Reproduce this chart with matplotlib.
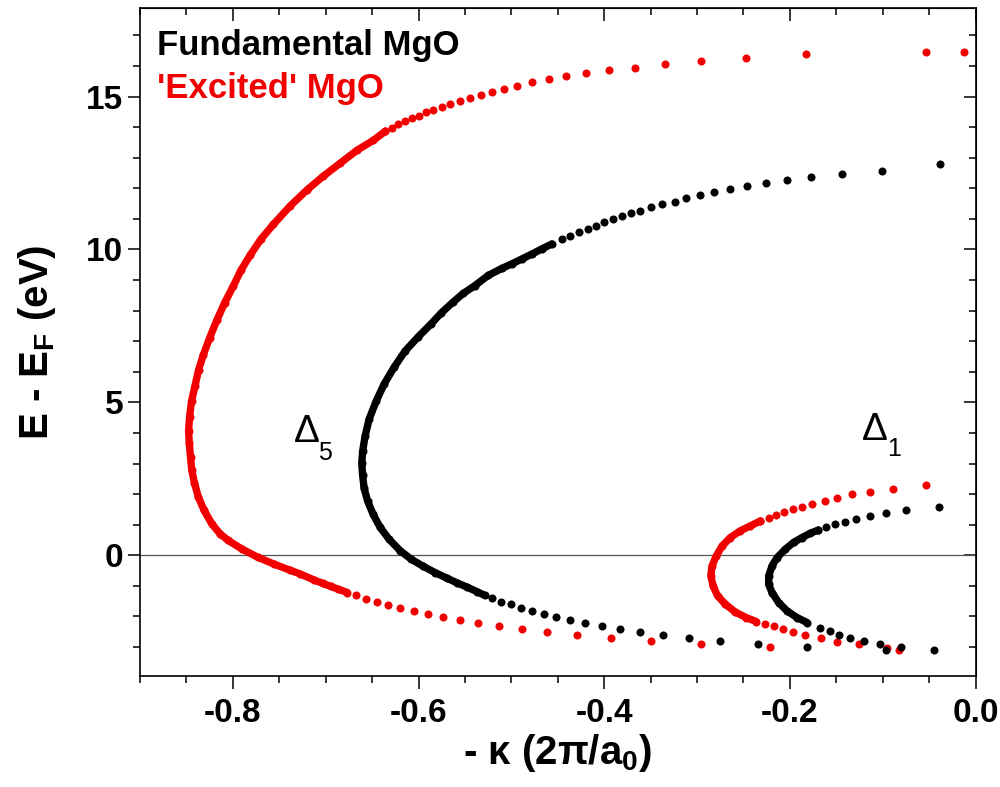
import numpy as np
import matplotlib.pyplot as plt
from matplotlib.ticker import MultipleLocator

plt.rcParams['font.family'] = ['Liberation Sans', 'DejaVu Sans']
plt.rcParams['mathtext.fontset'] = 'custom'
plt.rcParams['mathtext.bf'] = 'Liberation Sans:bold'
plt.rcParams['mathtext.rm'] = 'Liberation Sans'
plt.rcParams['mathtext.default'] = 'bf'

# ---- data: -kappa (2pi/a0) and E - E_F (eV) ----
# 'Excited' MgO, Delta5 branch
red5_top_k = [-0.0119, -0.0532, -0.1825, -0.2476, -0.2957, -0.3349, -0.3672, -0.3948, -0.4193, -0.4409,
              -0.4599, -0.4772, -0.4940, -0.5077, -0.5206, -0.5332, -0.5443, -0.5551, -0.5656, -0.5748,
              -0.5839, -0.5918, -0.6000, -0.6072, -0.6144, -0.6216, -0.6287, -0.6359]
red5_top_e = [16.45, 16.45, 16.38, 16.27, 16.16, 16.07, 15.94, 15.88, 15.77, 15.66,
              15.56, 15.47, 15.36, 15.25, 15.16, 15.06, 14.96, 14.87, 14.77, 14.67,
              14.57, 14.49, 14.38, 14.29, 14.20, 14.09, 13.98, 13.86]
red5_arc_k = [-0.6359, -0.6486, -0.6664, -0.6844, -0.7028, -0.7203, -0.7383, -0.7563, -0.7696, -0.7814,
              -0.7911, -0.7994, -0.8089, -0.8173, -0.8251, -0.8318, -0.8369, -0.8407, -0.8445, -0.8466,
              -0.8477, -0.8469, -0.8456, -0.8443, -0.8413, -0.8372, -0.8310, -0.8227, -0.8138, -0.8052,
              -0.7901, -0.7728, -0.7556, -0.7383, -0.7276, -0.7125, -0.7031, -0.6945, -0.6863, -0.6766]
red5_arc_e = [13.86, 13.57, 13.24, 12.82, 12.39, 11.94, 11.42, 10.82, 10.34, 9.81,
              9.33, 8.81, 8.25, 7.68, 7.10, 6.55, 6.06, 5.55, 5.04, 4.52,
              4.06, 3.67, 3.21, 2.79, 2.36, 1.91, 1.47, 1.03, 0.70, 0.49,
              0.20, -0.07, -0.29, -0.49, -0.61, -0.81, -0.92, -1.02, -1.11, -1.22]
red5_bot_k = [-0.6672, -0.6564, -0.6442, -0.6324, -0.6198, -0.6044, -0.5899, -0.5731, -0.5551, -0.5354,
              -0.5131, -0.4890, -0.4613, -0.4298, -0.3931, -0.3496, -0.2954, -0.2210]
red5_bot_e = [-1.31, -1.42, -1.52, -1.63, -1.73, -1.82, -1.91, -2.02, -2.12, -2.20,
              -2.31, -2.42, -2.52, -2.62, -2.71, -2.82, -2.90, -3.00]

# Fundamental MgO, Delta5 branch
blk5_top_k = [-0.0385, -0.1006, -0.1437, -0.1768, -0.2030, -0.2256, -0.2461, -0.2648, -0.2821, -0.2972,
              -0.3115, -0.3241, -0.3377, -0.3496, -0.3611, -0.3711, -0.3808, -0.3905, -0.3999, -0.4085,
              -0.4175, -0.4276, -0.4365, -0.4455]
blk5_top_e = [12.78, 12.56, 12.47, 12.38, 12.27, 12.18, 12.07, 11.98, 11.87, 11.78,
              11.68, 11.56, 11.49, 11.38, 11.27, 11.19, 11.09, 11.00, 10.89, 10.78,
              10.67, 10.56, 10.45, 10.34]
blk5_arc_k = [-0.4563, -0.4670, -0.4778, -0.4886, -0.4994, -0.5102, -0.5249, -0.5396, -0.5519, -0.5631,
              -0.5756, -0.5866, -0.6004, -0.6144, -0.6262, -0.6370, -0.6456, -0.6532, -0.6575, -0.6602,
              -0.6611, -0.6602, -0.6586, -0.6548, -0.6489, -0.6413, -0.6316, -0.6198, -0.6079, -0.5950,
              -0.5820, -0.5694, -0.5587, -0.5479, -0.5371, -0.5289]
blk5_arc_e = [10.18, 10.02, 9.85, 9.69, 9.53, 9.38, 9.15, 8.81, 8.56, 8.27,
              7.92, 7.56, 7.14, 6.68, 6.15, 5.60, 5.04, 4.45, 3.90, 3.40,
              3.01, 2.62, 2.19, 1.77, 1.34, 0.91, 0.52, 0.15, -0.13, -0.36,
              -0.57, -0.75, -0.90, -1.04, -1.19, -1.31]
blk5_bot_k = [-0.5203, -0.5109, -0.5005, -0.4894, -0.4772, -0.4653, -0.4516, -0.4365, -0.4211, -0.4024,
              -0.3827, -0.3611, -0.3366, -0.3081, -0.2752, -0.2347, -0.1814]
blk5_bot_e = [-1.41, -1.52, -1.60, -1.71, -1.82, -1.91, -2.01, -2.12, -2.20, -2.31,
              -2.40, -2.51, -2.61, -2.71, -2.81, -2.89, -3.00]

# 'Excited' MgO, Delta1 branch
red1_top_k = [-0.0532, -0.0892, -0.1140, -0.1331, -0.1491, -0.1626, -0.1757, -0.1868, -0.1969, -0.2067,
              -0.2148, -0.2228, -0.2318]
red1_top_e = [2.29, 2.18, 2.08, 1.99, 1.88, 1.78, 1.69, 1.58, 1.50, 1.40,
              1.32, 1.23, 1.12]
red1_arc_k = [-0.2318, -0.2425, -0.2533, -0.2641, -0.2730, -0.2792, -0.2838, -0.2851, -0.2827, -0.2778,
              -0.2695, -0.2587, -0.2469, -0.2361]
red1_arc_e = [1.12, 0.96, 0.80, 0.58, 0.30, -0.02, -0.35, -0.68, -1.00, -1.33,
              -1.60, -1.86, -2.04, -2.17]
red1_bot_k = [-0.2264, -0.2174, -0.2073, -0.1965, -0.1840, -0.1663, -0.1488, -0.1254, -0.0952, -0.0827]
red1_bot_e = [-2.24, -2.33, -2.42, -2.52, -2.61, -2.72, -2.84, -2.91, -3.02, -3.10]

# Fundamental MgO, Delta1 branch
blk1_top_k = [-0.0396, -0.0747, -0.0967, -0.1141, -0.1283, -0.1402, -0.1509, -0.1606, -0.1696]
blk1_top_e = [1.58, 1.47, 1.38, 1.29, 1.18, 1.10, 1.01, 0.91, 0.82]
blk1_arc_k = [-0.1696, -0.1779, -0.1868, -0.1959, -0.2048, -0.2138, -0.2192, -0.2228, -0.2228, -0.2192,
              -0.2120, -0.2030, -0.1922, -0.1814]
blk1_arc_e = [0.82, 0.72, 0.58, 0.42, 0.20, -0.08, -0.35, -0.68, -0.95, -1.22,
              -1.55, -1.82, -2.04, -2.20]
blk1_bot_k = [-0.1671, -0.1571, -0.1466, -0.1348, -0.1197, -0.1024, -0.0960, -0.0801, -0.0442]
blk1_bot_e = [-2.37, -2.48, -2.61, -2.72, -2.82, -2.91, -3.09, -2.99, -3.11]

RED = '#f20000'
BLACK = '#000000'

fig = plt.figure(figsize=(10, 7.87), dpi=100)
ax = fig.add_axes([0.14, 0.141, 0.8355, 0.849])

# Fermi level
ax.axhline(0, color='#555555', lw=0.9, zorder=1)

dot = dict(ls='none', marker='o', ms=5.8, mec='none', zorder=3)
arc = dict(ls='-', lw=5.3, solid_capstyle='round', solid_joinstyle='round', zorder=3)

curves = [
    (RED, red5_top_k, red5_top_e, red5_arc_k, red5_arc_e, red5_bot_k, red5_bot_e),
    (BLACK, blk5_top_k, blk5_top_e, blk5_arc_k, blk5_arc_e, blk5_bot_k, blk5_bot_e),
    (RED, red1_top_k, red1_top_e, red1_arc_k, red1_arc_e, red1_bot_k, red1_bot_e),
    (BLACK, blk1_top_k, blk1_top_e, blk1_arc_k, blk1_arc_e, blk1_bot_k, blk1_bot_e),
]
for c, tk, te, ak, ae, bk, be in curves:
    ax.plot(ak, ae, color=c, **arc)
    ax.plot(ak, ae, color=c, **dot)
    ax.plot(tk, te, color=c, **dot)
    ax.plot(bk, be, color=c, **dot)

# axes limits & ticks
ax.set_xlim(-0.9, 0.0)
ax.set_ylim(-3.95, 17.9)
ax.xaxis.set_major_locator(MultipleLocator(0.2))
ax.xaxis.set_minor_locator(MultipleLocator(0.05))
ax.yaxis.set_major_locator(MultipleLocator(5))
ax.yaxis.set_minor_locator(MultipleLocator(1))
ax.set_xticks([-0.8, -0.6, -0.4, -0.2, 0.0])
ax.set_xticklabels(['-0.8', '-0.6', '-0.4', '-0.2', '0.0'])

for s in ax.spines.values():
    s.set_linewidth(1.2)
ax.tick_params(which='both', direction='out', top=False, right=False, width=1.1, labelsize=24)
ax.tick_params(axis='x', pad=7)
ax.tick_params(axis='y', pad=3)
ax.tick_params(which='major', length=9)
ax.tick_params(which='minor', length=5)
for lab in ax.get_xticklabels() + ax.get_yticklabels():
    lab.set_fontweight('bold')

# inward ticks on the top and right edges
secx = ax.secondary_xaxis('top')
secx.xaxis.set_major_locator(MultipleLocator(0.2))
secx.xaxis.set_minor_locator(MultipleLocator(0.05))
secx.tick_params(which='both', direction='in', labeltop=False, width=1.1)
secx.tick_params(which='major', length=9)
secx.tick_params(which='minor', length=5)
secy = ax.secondary_yaxis('right')
secy.yaxis.set_major_locator(MultipleLocator(5))
secy.yaxis.set_minor_locator(MultipleLocator(1))
secy.tick_params(which='both', direction='in', labelright=False, width=1.1)
secy.tick_params(which='major', length=9)
secy.tick_params(which='minor', length=5)

ax.set_xlabel(r'- κ (2π/a$_0$)', fontsize=29, fontweight='bold', labelpad=2)
ax.set_ylabel(r'E - E$_F$ (eV)', fontsize=29, fontweight='bold', labelpad=20)

# legend-like labels
ax.text(0.02, 0.944, 'Fundamental MgO', transform=ax.transAxes, color=BLACK,
        fontsize=25, fontweight='bold', va='center', ha='left')
ax.text(0.02, 0.879, "'Excited' MgO", transform=ax.transAxes, color=RED,
        fontsize=25, fontweight='bold', va='center', ha='left')

# band labels
ax.text(-0.734, 3.70, 'Δ', fontsize=28, ha='left', va='baseline')
ax.text(-0.708, 3.12, '5', fontsize=18, ha='left', va='baseline')
ax.text(-0.122, 3.76, 'Δ', fontsize=28, ha='left', va='baseline')
ax.text(-0.095, 3.25, '1', fontsize=18, ha='left', va='baseline')

fig.savefig('out.png', dpi=100)
